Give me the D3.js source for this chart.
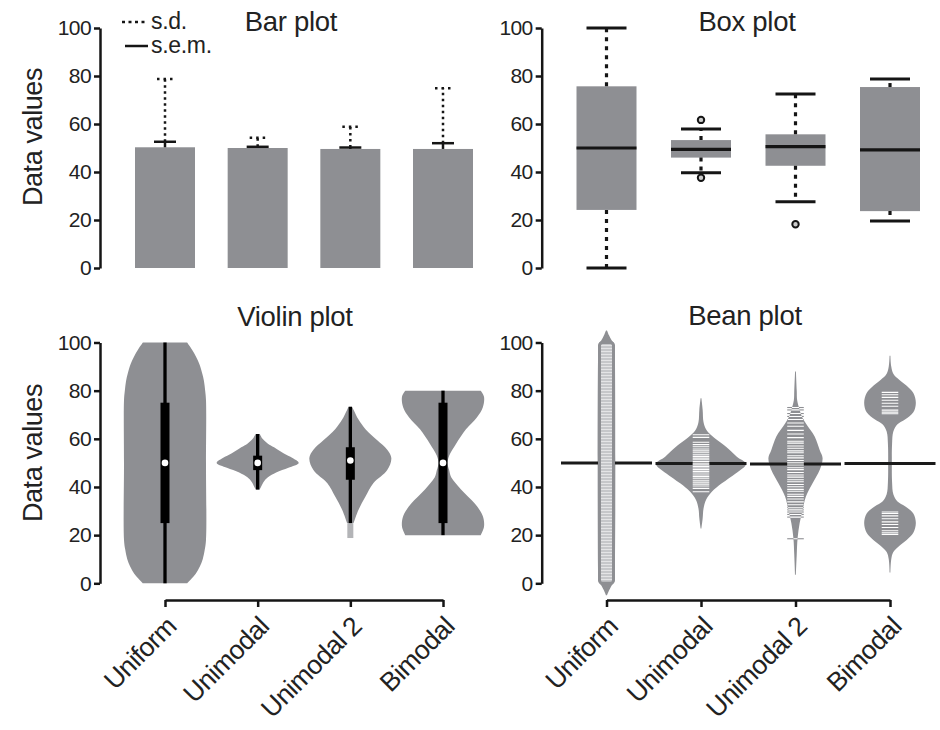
<!DOCTYPE html>
<html>
<head>
<meta charset="utf-8">
<script src="https://cdn.jsdelivr.net/npm/d3@7"></script>
<style>
  body { margin: 0; background: #fff; }
  text { font-family: "Liberation Sans", Arial, Helvetica, sans-serif; fill: #222; }
</style>
</head>
<body>
<svg id="chart" width="940" height="730"></svg>
<script>
const categories = ["Uniform", "Unimodal", "Unimodal 2", "Bimodal"];
const yTicks = [0, 20, 40, 60, 80, 100];

// bar plot
const barMeans = [50.3, 50.0, 49.6, 49.6];
const barSD = [28.4, 4.3, 9.3, 25.3];
const barSEM = [2.3, 0.5, 0.6, 2.4];

// box plot
const boxLow = [0, 39.7, 27.6, 19.6];
const boxQ1 = [24.2, 46, 42.6, 23.7];
const boxMedian = [50, 49.4, 50.6, 49.2];
const boxQ3 = [75.7, 53.3, 55.7, 75.4];
const boxHigh = [100, 57.9, 72.5, 78.7];
const boxOutliers = [[], [61.7, 37.6], [18.2], []];

// violin plot: [value, relative density]
const violinDensity = [
  [[100, .54], [97, .66], [94, .76], [91, .84], [87, .91], [84, .95], [80, .98], [76, 1], [50, 1], [18, 1], [14, .97], [10, .92], [7, .85], [4, .75], [2, .65], [0, .54]],
  [[62, .05], [60, .12], [58, .25], [56.5, .4], [54, .63], [52, .85], [50, 1], [48, .75], [46, .45], [44, .25], [42, .14], [40, .08], [38.7, .04]],
  [[73.3, .04], [72, .08], [68, .2], [64, .37], [59.5, .65], [55.5, .9], [52, 1], [47, .9], [41.5, .56], [36, .37], [30.5, .2], [25, .08]],
  [[80, .92], [77.5, 1], [73, .97], [69, .83], [64, .56], [58, .32], [53, .15], [50, .11], [47, .15], [44, .2], [39, .44], [33, .78], [28, .97], [23.5, 1], [20, .92]]
];
const violinMin = [0, 39, 25, 20];
const violinMax = [100, 62, 73.3, 80];
const violinQ1 = [25, 47, 43, 25];
const violinQ3 = [75, 53, 56.5, 75];
const violinMedian = [50, 50, 51, 50];
const violinTail = [null, null, [18.8, 25], null];

// bean plot: [value, density]
const beanDensity = [
  [[105, .0006], [103, .003], [101, .006], [99, .0095], [96, .01], [4, .01], [1, .0095], [-1, .006], [-3, .003], [-5, .0006]],
  [[76.8, .0005], [72, .002], [67, .003], [64, .006], [61.6, .012], [56.7, .03], [52.6, .043], [49.6, .054], [45.7, .042], [41.5, .025], [38, .013], [34.6, .006], [31, .003], [27, .002], [22.8, .0005]],
  [[88, .0005], [80, .0015], [76, .002], [72, .005], [69, .008], [66.4, .0125], [61, .023], [55.4, .029], [52, .0325], [47, .029], [41.5, .0205], [36, .0125], [30.4, .0085], [25, .005], [18.7, .0025], [12, .0015], [3.5, .0005]],
  [[94.5, .0005], [90, .0015], [87, .004], [84.5, .011], [82, .02], [79, .028], [75, .031], [71, .028], [68, .018], [66, .009], [63, .004], [58, .0025], [50, .0022], [42, .0025], [37, .004], [34, .009], [32, .018], [29, .028], [25, .031], [21, .028], [18, .02], [15.5, .011], [13, .004], [10, .0015], [4.5, .0005]]
];
const beanMeans = [50, 49.8, 49.5, 49.8];
const beanBand = [[0, 100], null, null, null];
const beanLines = [
  [],
  [38, 39.4, 40.4, 41.2, 42, 42.8, 43.6, 44.3, 45, 45.8, 46.5, 47.2, 47.9, 48.5, 49.2, 49.9, 50.6, 51.3, 52, 52.7, 53.4, 54.2, 55, 55.8, 56.7, 57.6, 58.6, 60.6, 61.7],
  [18.5, 27.5, 28.6, 29.6, 30.5, 31.4, 32.6, 33.8, 35, 36.1, 37, 38.2, 39, 40.1, 41, 42.2, 43, 44.1, 45, 46, 47.2, 48, 49.1, 50, 51, 52.1, 53, 54.2, 55, 56.1, 57, 58.2, 59, 60.5, 62, 63.5, 65.2, 66.6, 68, 69.3, 70.5, 72, 73],
  [20.3, 21, 21.8, 23.2, 24.4, 25.5, 26.8, 28, 29, 29.6, 70.4, 71.1, 71.9, 73.5, 74.8, 76, 77.2, 78.3, 79.3]
];

const gray = "#8e8f93";
const ink = "#151515";
const svg = d3.select("#chart");
const I = d3.range(categories.length);

const yTop = d3.scaleLinear().domain([0, 100]).range([268, 28]);
const yBot = d3.scaleLinear().domain([0, 100]).range([583.3, 342.5]);
const xLeft = d3.scalePoint().domain(categories).range([165, 443]);
const xRight = d3.scalePoint().domain(categories).range([606.5, 890]);

function yAxis(y, x0) {
  const g = svg.append("g")
    .attr("transform", `translate(${x0},0)`)
    .call(d3.axisLeft(y).tickValues(yTicks).tickSize(6).tickSizeOuter(0).tickPadding(3));
  g.select(".domain").attr("stroke", ink).attr("stroke-width", 2.5);
  g.selectAll(".tick line").attr("stroke", ink).attr("stroke-width", 2.5);
  g.selectAll(".tick text")
    .attr("font-size", 21).attr("font-family", null).attr("fill", "#222")
    .attr("letter-spacing", -0.6);
}

function xAxis(x, y0) {
  const g = svg.append("g")
    .attr("transform", `translate(0,${y0})`)
    .call(d3.axisBottom(x).tickSize(7).tickSizeOuter(0).tickFormat(""));
  g.select(".domain").attr("stroke", ink).attr("stroke-width", 2.5);
  g.selectAll(".tick line").attr("stroke", ink).attr("stroke-width", 2.5);
  svg.append("g").selectAll("text")
    .data(categories)
    .join("text")
    .attr("transform", d => `translate(${x(d) + 13},${y0 + 28}) rotate(-45)`)
    .attr("text-anchor", "end")
    .attr("font-size", 26.5)
    .attr("letter-spacing", -0.5)
    .text(d => d);
}

function title(txt, x, y) {
  svg.append("text").attr("x", x).attr("y", y).attr("text-anchor", "middle")
    .attr("font-size", 27.5).attr("letter-spacing", -0.3).text(txt);
}

function yLabel(cy) {
  svg.append("text")
    .attr("transform", `translate(42,${cy}) rotate(-90)`)
    .attr("text-anchor", "middle")
    .attr("font-size", 27)
    .attr("letter-spacing", -0.4)
    .text("Data values");
}

// ---------- Bar plot ----------
yAxis(yTop, 100);
yLabel(137);
title("Bar plot", 291, 31);

svg.append("g").selectAll("rect")
  .data(I)
  .join("rect")
  .attr("x", i => xLeft(categories[i]) - 30)
  .attr("width", 60)
  .attr("y", i => yTop(barMeans[i]))
  .attr("height", i => yTop(0) - yTop(barMeans[i]))
  .attr("fill", gray);

const err = svg.append("g").attr("stroke", ink);
I.forEach(i => {
  const cx = xLeft(categories[i]);
  const m = barMeans[i], sd = m + barSD[i], se = m + barSEM[i];
  err.append("line").attr("x1", cx).attr("x2", cx)
    .attr("y1", yTop(se)).attr("y2", yTop(sd))
    .attr("stroke-width", 2.5).attr("stroke-dasharray", "2.5,3.5");
  err.append("line").attr("x1", cx - 8).attr("x2", cx + 9)
    .attr("y1", yTop(sd)).attr("y2", yTop(sd))
    .attr("stroke-width", 2.5).attr("stroke-dasharray", "2.5,4");
  err.append("line").attr("x1", cx).attr("x2", cx)
    .attr("y1", yTop(m)).attr("y2", yTop(se)).attr("stroke-width", 2.5);
  err.append("line").attr("x1", cx - 11).attr("x2", cx + 11)
    .attr("y1", yTop(se)).attr("y2", yTop(se)).attr("stroke-width", 2.5);
});

// legend
const leg = svg.append("g");
leg.append("line").attr("x1", 122).attr("x2", 148).attr("y1", 22).attr("y2", 22)
  .attr("stroke", ink).attr("stroke-width", 2.5).attr("stroke-dasharray", "3,3.5");
leg.append("text").attr("x", 151).attr("y", 29).attr("font-size", 23).attr("letter-spacing", -0.3).text("s.d.");
leg.append("line").attr("x1", 125).attr("x2", 148).attr("y1", 46).attr("y2", 46)
  .attr("stroke", ink).attr("stroke-width", 2.5);
leg.append("text").attr("x", 151).attr("y", 53).attr("font-size", 23).attr("letter-spacing", -0.3).text("s.e.m.");

// ---------- Box plot ----------
yAxis(yTop, 541.7);
title("Box plot", 747, 31);

const box = svg.append("g");
I.forEach(i => {
  const cx = xRight(categories[i]);
  box.append("rect").attr("x", cx - 30).attr("width", 60)
    .attr("y", yTop(boxQ3[i])).attr("height", yTop(boxQ1[i]) - yTop(boxQ3[i]))
    .attr("fill", gray);
  [[boxQ3[i], boxHigh[i]], [boxQ1[i], boxLow[i]]].forEach(([a, b]) => {
    box.append("line").attr("x1", cx).attr("x2", cx)
      .attr("y1", yTop(a)).attr("y2", yTop(b))
      .attr("stroke", ink).attr("stroke-width", 3.2).attr("stroke-dasharray", "4,5");
    box.append("line").attr("x1", cx - 20).attr("x2", cx + 20)
      .attr("y1", yTop(b)).attr("y2", yTop(b))
      .attr("stroke", ink).attr("stroke-width", 3);
  });
  box.append("line").attr("x1", cx - 30).attr("x2", cx + 30)
    .attr("y1", yTop(boxMedian[i])).attr("y2", yTop(boxMedian[i]))
    .attr("stroke", ink).attr("stroke-width", 3.2);
  box.selectAll(null).data(boxOutliers[i]).join("circle")
    .attr("cx", cx).attr("cy", d => yTop(d)).attr("r", 3.2)
    .attr("fill", "#ccc").attr("stroke", ink).attr("stroke-width", 2);
});

// ---------- Violin plot ----------
yAxis(yBot, 100);
yLabel(453);
title("Violin plot", 295, 326);
xAxis(xLeft, 600);

const wV = d3.scaleLinear().domain([0, 1]).range([0, 41]);
const vio = svg.append("g");
I.forEach(i => {
  const cx = xLeft(categories[i]);
  const area = d3.area().curve(d3.curveCatmullRom)
    .y(d => yBot(d[0])).x0(d => cx - wV(d[1])).x1(d => cx + wV(d[1]));
  vio.append("path").attr("d", area(violinDensity[i])).attr("fill", gray);
  if (violinTail[i]) {
    vio.append("rect").attr("x", cx - 3).attr("width", 6)
      .attr("y", yBot(violinTail[i][1])).attr("height", yBot(violinTail[i][0]) - yBot(violinTail[i][1]))
      .attr("fill", "#b3b4b7");
  }
  vio.append("line").attr("x1", cx).attr("x2", cx)
    .attr("y1", yBot(violinMin[i])).attr("y2", yBot(violinMax[i]))
    .attr("stroke", "#000").attr("stroke-width", 3.3);
  vio.append("rect").attr("x", cx - 4.5).attr("width", 9)
    .attr("y", yBot(violinQ3[i])).attr("height", yBot(violinQ1[i]) - yBot(violinQ3[i]))
    .attr("fill", "#000");
  vio.append("circle").attr("cx", cx).attr("cy", yBot(violinMedian[i])).attr("r", 3.3).attr("fill", "#fff");
});

// ---------- Bean plot ----------
yAxis(yBot, 541.7);
title("Bean plot", 745, 325);
xAxis(xRight, 600);

const defs = svg.append("defs");
const pat = defs.append("pattern").attr("id", "stripes")
  .attr("patternUnits", "userSpaceOnUse").attr("width", 20).attr("height", 3);
pat.append("rect").attr("width", 20).attr("height", 3).attr("fill", "#c6c7ca");
pat.append("rect").attr("width", 20).attr("height", 1).attr("fill", "#e4e4e6");

const wB = d3.scaleLinear().domain([0, 0.054]).range([0, 45]);
const bean = svg.append("g");
I.forEach(i => {
  const cx = xRight(categories[i]);
  const area = d3.area().curve(d3.curveCatmullRom)
    .y(d => yBot(d[0])).x0(d => cx - wB(d[1])).x1(d => cx + wB(d[1]));
  const d = area(beanDensity[i]);
  defs.append("clipPath").attr("id", `bean${i}`).append("path").attr("d", d);
  bean.append("path").attr("d", d).attr("fill", gray);
  bean.append("line").attr("x1", cx - 45.5).attr("x2", cx + 45.5)
    .attr("y1", yBot(beanMeans[i])).attr("y2", yBot(beanMeans[i]))
    .attr("stroke", "#1a1a1a").attr("stroke-width", 3);
  if (beanBand[i]) {
    bean.append("rect").attr("x", cx - 7).attr("width", 14)
      .attr("y", yBot(beanBand[i][1])).attr("height", yBot(beanBand[i][0]) - yBot(beanBand[i][1]))
      .attr("fill", "url(#stripes)").attr("stroke", gray).attr("stroke-width", 3).attr("rx", 3);
  }
  bean.append("g").selectAll("line").data(beanLines[i]).join("line")
    .attr("x1", cx - 8.3).attr("x2", cx + 8.3)
    .attr("y1", v => yBot(v)).attr("y2", v => yBot(v))
    .attr("stroke", gray).attr("stroke-width", 1.1);
  bean.append("g").attr("clip-path", `url(#bean${i})`)
    .selectAll("line").data(beanLines[i]).join("line")
    .attr("x1", cx - 8.3).attr("x2", cx + 8.3)
    .attr("y1", v => yBot(v)).attr("y2", v => yBot(v))
    .attr("stroke", "#fff").attr("stroke-width", 1.1);
});
</script>
</body>
</html>
